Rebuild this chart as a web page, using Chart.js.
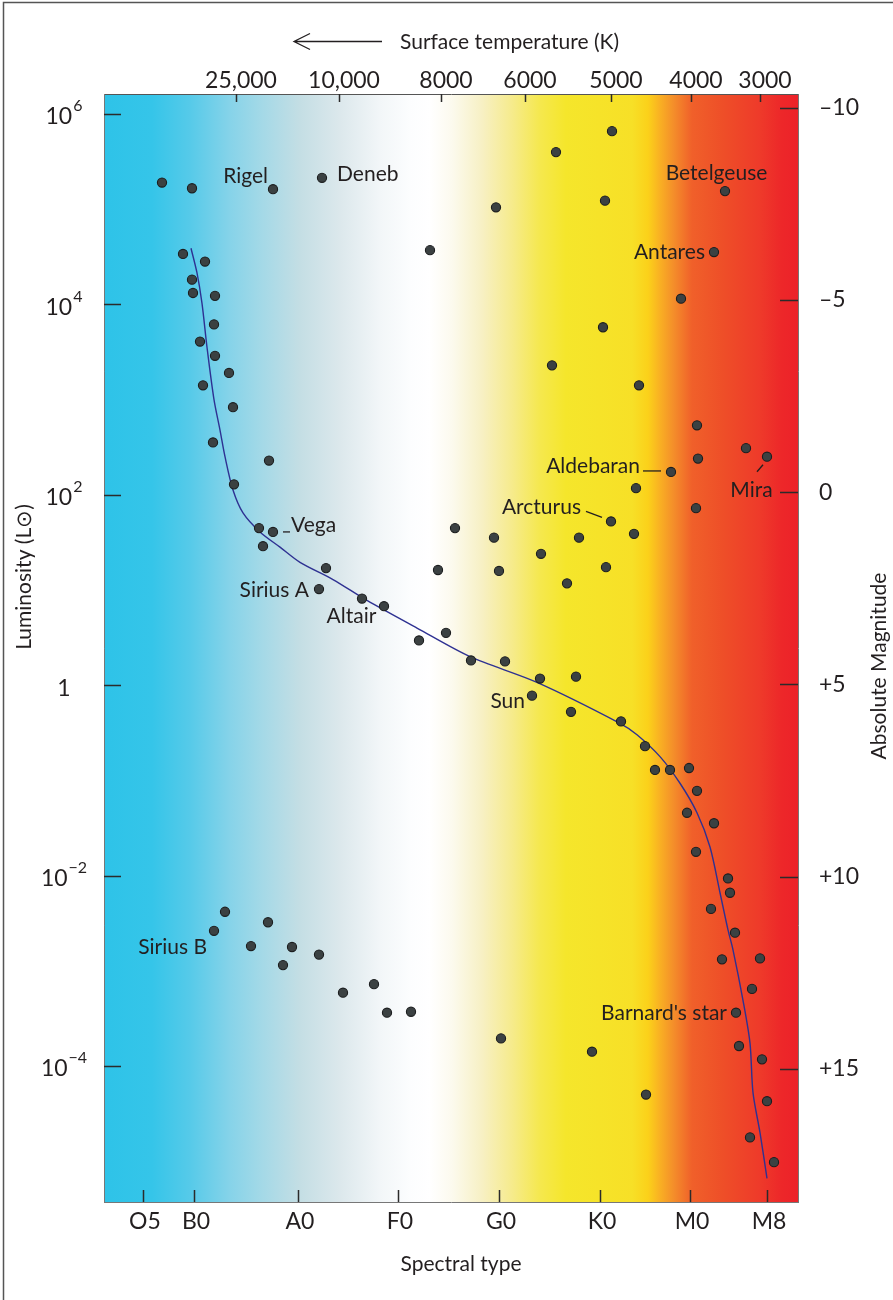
<!DOCTYPE html>
<html><head><meta charset="utf-8">
<script src="https://cdn.jsdelivr.net/npm/chart.js@4.4.1/dist/chart.umd.min.js"></script>
<style>html,body{margin:0;padding:0;background:#fff;}canvas{display:block;}</style>
</head><body>
<canvas id="c" width="893" height="1300"></canvas>
<script>
// ---------- DATA ----------
// x: spectral-subclass units (B0 = 0), y: log10(L / Lsun)
const spectralLabels = ['O5','B0','A0','F0','G0','K0','M0','M8'];
const spectralPos    = [-5.1, 0, 10.4, 20.4, 30.5, 40.6, 49.6, 57.3];
const tempLabels = ['25,000','10,000','8000','6000','5000','4000','3000'];
const tempPos    = [4.2, 14.5, 24.7, 33.1, 41.7, 49.7, 56.6];
const lumTicks    = [6, 4, 2, 0, -2, -4];
const lumBase     = ['10','10','10','1','10','10'];
const lumExponent = ['6','4','2','','\u22122','\u22124'];
const magTicks  = [-10, -5, 0, 5, 10, 15];
const magLabels = ['–10','–5','0','+5','+10','+15'];

const starX = [
 -3.2,-0.2,7.9,12.8,36.2,41.8,30.2,41.1,53.1,23.6,
 52.0,48.7,40.9,35.8,44.5,50.3,55.2,57.3,50.4,47.7,
 44.2,50.2,41.7,26.1,30.0,38.5,44.0,34.7,30.5,41.2,
 37.3,24.4,-1.1,1.1,-0.2,-0.1,2.1,2.0,0.6,2.1,
 3.5,0.9,3.9,1.9,7.5,4.0,6.5,7.9,6.9,13.2,
 12.5,16.8,19.0,22.5,25.2,27.7,31.1,34.6,38.2,33.8,
 37.7,42.7,45.1,46.1,47.6,49.5,50.3,49.3,52.0,50.2,
 53.4,53.6,51.7,54.1,52.8,56.6,55.8,54.2,30.7,39.8,
 54.5,56.8,45.2,57.3,55.6,58.0,3.1,2.0,7.4,5.7,
 9.8,8.9,12.5,14.9,18.0,19.3,21.7];
const starLogL = [
 5.28,5.22,5.21,5.33,5.60,5.82,5.02,5.09,5.19,4.57,
 4.55,4.06,3.76,3.36,3.15,2.73,2.49,2.40,2.38,2.24,
 2.07,1.86,1.72,1.65,1.55,1.55,1.59,1.38,1.20,1.24,
 1.07,1.21,4.53,4.45,4.26,4.12,4.09,3.79,3.61,3.46,
 3.28,3.15,2.92,2.55,2.36,2.11,1.65,1.61,1.46,1.23,
 1.01,0.91,0.83,0.47,0.55,0.26,0.25,0.07,0.09,-0.11,
 -0.28,-0.38,-0.64,-0.89,-0.89,-0.87,-1.11,-1.34,-1.45,-1.75,
 -2.03,-2.18,-2.35,-2.60,-2.88,-2.87,-3.19,-3.44,-3.71,-3.85,
 -3.79,-3.93,-4.30,-4.37,-4.75,-5.01,-2.38,-2.58,-2.49,-2.74,
 -2.75,-2.94,-2.83,-3.23,-3.14,-3.44,-3.43];

const msX    = [-0.3,0.3,0.8,1.3,2.0,2.6,3.1,3.9,4.9,6.6,8.6,10.6,13.9,17.3,22.3,27.6,34.3,42.6,44.3,46.6,48.6,50.3,51.6,52.6,53.4,53.9,54.9,55.6,55.9,56.6,57.3];
const msLogL = [4.59,4.33,4.01,3.55,3.00,2.68,2.40,2.05,1.81,1.61,1.45,1.29,1.11,0.89,0.60,0.30,0.03,-0.40,-0.52,-0.75,-1.03,-1.34,-1.70,-2.18,-2.57,-2.78,-3.31,-3.76,-4.28,-4.70,-5.18];

const labelNames = ['Rigel','Deneb','Betelgeuse','Antares','Aldebaran','Mira','Arcturus','Vega','Sirius A','Altair','Sun','Sirius B',"Barnard's star"];
const labelStar  = [2,3,8,10,19,17,22,47,50,51,59,87,77];

// ---------- STYLE ----------
const FONT = 'Lato, "Open Sans", sans-serif';
const TXT = '#231f20';
const labelStyle = [
 {dx:-5,  dy:-13, align:'right'},
 {dx:15,  dy:-4,  align:'left'},
 {dx:-8.5,dy:-18, align:'center'},
 {dx:-9,  dy:0,   align:'right'},
 {dx:-31, dy:-6,  align:'right', lead:[-28,-1,-10,-1]},
 {dx:-15.5,dy:34, align:'center', lead:[-10,15,-4,8]},
 {dx:-30, dy:-14, align:'right', lead:[-25,-10,-9,-4]},
 {dx:18,  dy:-7,  align:'left',  lead:[10,0,17,0]},
 {dx:-10, dy:1,   align:'right'},
 {dx:-10.5,dy:18, align:'center'},
 {dx:-7,  dy:6,   align:'right'},
 {dx:-7,  dy:16,  align:'right'},
 {dx:-9,  dy:1,   align:'right'}
];
const gradStops = [
 [104,'#2ec3e8'],[152,'#35c5e9'],[190,'#56cae9'],[230,'#86d3e9'],[262,'#a4d9e7'],
 [300,'#c4dee4'],[340,'#dce8ec'],[380,'#f2f6f8'],[410,'#fcfdfe'],[430,'#ffffff'],
 [452,'#fcfaee'],[482,'#f7f0c4'],[512,'#f6eb8c'],[540,'#f5e84e'],[566,'#f5e62b'],
 [632,'#f7e027'],[648,'#fbd11a'],[660,'#f9b023'],[674,'#f48d2a'],[692,'#f0602a'],
 [722,'#ee4f28'],[760,'#ee3a2a'],[782,'#ed2729'],[798,'#ec2229']];

const fixed = (v) => (s) => { s.ticks = v.map(x => ({value: x})); };

const bgPlugin = {
  id: 'bg',
  beforeDraw(chart) {
    const {ctx, chartArea: a, width, height} = chart;
    ctx.save();
    ctx.fillStyle = '#fff';
    ctx.fillRect(0, 0, width, height);
    const g = ctx.createLinearGradient(a.left, 0, a.right, 0);
    gradStops.forEach(([p, c]) => g.addColorStop(Math.min(1, Math.max(0, (p - 104) / 694)), c));
    ctx.fillStyle = g;
    ctx.fillRect(a.left, a.top, a.right - a.left, a.bottom - a.top);
    ctx.strokeStyle = '#555';
    ctx.lineWidth = 1.5;
    ctx.beginPath();
    ctx.moveTo(3.5, height); ctx.lineTo(3.5, 2.5); ctx.lineTo(width, 2.5);
    ctx.stroke();
    ctx.restore();
  }
};

const decorPlugin = {
  id: 'decor',
  afterDatasetsDraw(chart) {
    const {ctx, chartArea: a, scales} = chart;
    ctx.save();
    // inward tick marks
    ctx.strokeStyle = '#2b2b2b';
    ctx.lineWidth = 1.5;
    ctx.beginPath();
    spectralPos.forEach(v => { const p = Math.round(scales.x.getPixelForValue(v)) + 0.5; ctx.moveTo(p, a.bottom); ctx.lineTo(p, a.bottom - 12); });
    tempPos.forEach(v => { const p = Math.round(scales.xT.getPixelForValue(v)) + 0.5; ctx.moveTo(p, a.top); ctx.lineTo(p, a.top + 8); });
    lumTicks.forEach(v => { const p = Math.round(scales.y.getPixelForValue(v)) + 0.5; ctx.moveTo(a.left, p); ctx.lineTo(a.left + 17, p); });
    magTicks.forEach(v => { const p = Math.round(scales.yM.getPixelForValue(v)) + 0.5; ctx.moveTo(a.right - 18, p); ctx.lineTo(a.right, p); });
    ctx.stroke();

    ctx.fillStyle = TXT;
    ctx.textBaseline = 'middle';

    // luminosity tick labels with superscript exponents
    lumTicks.forEach((v, i) => {
      const py = scales.y.getPixelForValue(v) + 3;
      ctx.font = '23px ' + FONT;
      const bw = ctx.measureText(lumBase[i]).width;
      ctx.font = '16px ' + FONT;
      const ew = lumExponent[i] ? ctx.measureText(lumExponent[i]).width + 1 : 0;
      const x0 = 64 - (bw + ew) / 2;
      ctx.textAlign = 'left';
      ctx.font = '23px ' + FONT;
      ctx.fillText(lumBase[i], x0, py);
      if (lumExponent[i]) {
        ctx.font = '16px ' + FONT;
        ctx.fillText(lumExponent[i], x0 + bw + 1, py - 11);
      }
    });

    // star labels
    ctx.font = '21px ' + FONT;
    ctx.lineWidth = 1.3;
    ctx.strokeStyle = '#231f20';
    labelNames.forEach((name, i) => {
      const k = labelStar[i], st = labelStyle[i];
      const sx = scales.x.getPixelForValue(starX[k]);
      const sy = scales.y.getPixelForValue(starLogL[k]);
      ctx.textAlign = st.align;
      ctx.fillText(name, sx + st.dx, sy + st.dy);
      if (st.lead) {
        ctx.beginPath();
        ctx.moveTo(sx + st.lead[0], sy + st.lead[1]);
        ctx.lineTo(sx + st.lead[2], sy + st.lead[3]);
        ctx.stroke();
      }
    });

    // axis titles
    ctx.textAlign = 'center';
    ctx.fillText('Spectral type', 461, 1264);
    ctx.save();
    ctx.translate(24, 577); ctx.rotate(-Math.PI / 2);
    ctx.fillText('Luminosity (L\u2299)', 0, 0);
    ctx.restore();
    ctx.save();
    ctx.translate(879, 666); ctx.rotate(-Math.PI / 2);
    ctx.fillText('Absolute Magnitude', 0, 0);
    ctx.restore();

    // header with arrow
    ctx.textAlign = 'left';
    ctx.fillText('Surface temperature (K)', 400, 42);
    ctx.lineWidth = 1.3;
    ctx.beginPath();
    ctx.moveTo(382, 41.5); ctx.lineTo(294, 41.5);
    ctx.moveTo(310, 33.5); ctx.lineTo(294, 41.5); ctx.lineTo(310, 49.5);
    ctx.stroke();
    ctx.restore();
  }
};

const tickFont = {family: FONT, size: 23};
const border = {display: true, color: '#777', width: 1};

new Chart(document.getElementById('c'), {
  type: 'scatter',
  data: {
    datasets: [
      {
        type: 'line',
        data: msX.map((x, i) => ({x, y: msLogL[i]})),
        borderColor: '#2e3192',
        borderWidth: 1.4,
        pointRadius: 0,
        tension: 0.3,
        fill: false,
        order: 2
      },
      {
        data: starX.map((x, i) => ({x, y: starLogL[i]})),
        backgroundColor: '#3b4142',
        borderColor: '#1c1e1f',
        borderWidth: 1.1,
        pointRadius: 4.6,
        order: 1
      }
    ]
  },
  options: {
    responsive: false,
    animation: false,
    devicePixelRatio: 1,
    layout: {padding: 0},
    plugins: {legend: {display: false}, tooltip: {enabled: false}, title: {display: false}},
    scales: {
      x: {
        type: 'linear', position: 'bottom', min: -9.0, max: 60.4,
        afterBuildTicks: fixed(spectralPos),
        afterFit: s => { s.height = 98; },
        grid: {display: false, drawTicks: false},
        border,
        ticks: {autoSkip: false, maxRotation: 0, padding: 6, labelOffset: 2, font: tickFont, color: TXT,
                callback: (v, i) => spectralLabels[i]}
      },
      xT: {
        type: 'linear', position: 'top', min: -9.0, max: 60.4,
        afterBuildTicks: fixed(tempPos),
        afterFit: s => { s.height = 94; },
        grid: {display: false, drawTicks: false},
        border: {display: true, color: '#555', width: 1},
        ticks: {autoSkip: false, maxRotation: 0, padding: 0, labelOffset: 5, font: tickFont, color: TXT,
                callback: (v, i) => tempLabels[i]}
      },
      y: {
        type: 'linear', position: 'left', min: -5.4286, max: 6.2101,
        afterBuildTicks: fixed(lumTicks),
        afterFit: s => { s.width = 104; },
        grid: {display: false, drawTicks: false},
        border,
        ticks: {display: false}
      },
      yM: {
        type: 'linear', position: 'right', reverse: true, min: -10.352, max: 18.457,
        afterBuildTicks: fixed(magTicks),
        afterFit: s => { s.width = 95; },
        grid: {display: false, drawTicks: false},
        border,
        ticks: {autoSkip: false, padding: 21, font: tickFont, color: TXT,
                callback: (v, i) => magLabels[i]}
      }
    }
  },
  plugins: [bgPlugin, decorPlugin]
});
</script>
</body></html>
